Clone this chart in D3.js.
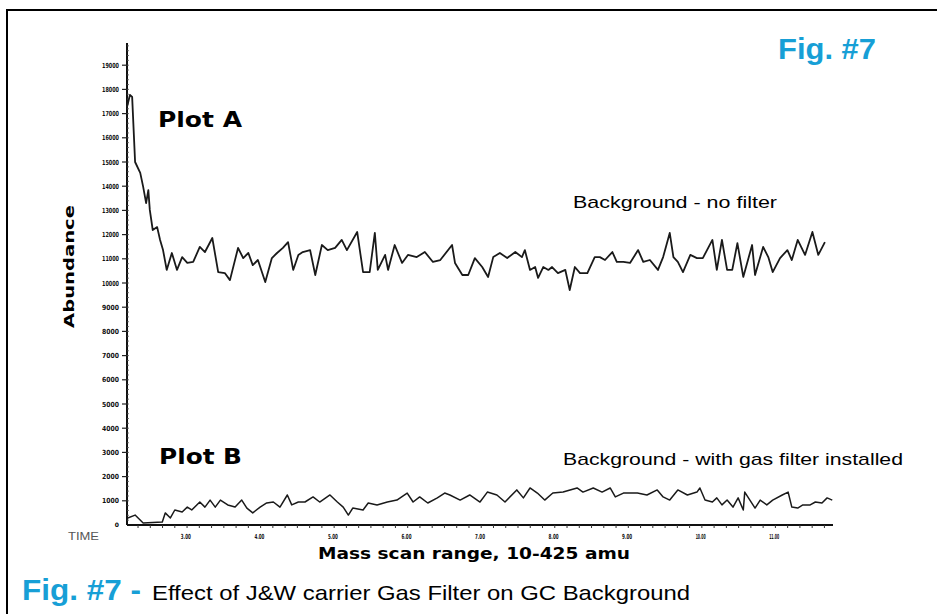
<!DOCTYPE html>
<html>
<head>
<meta charset="utf-8">
<script src="https://cdn.jsdelivr.net/npm/d3@7"></script>
<style>
  body { margin: 0; background: #fff; }
  svg { display: block; }
</style>
</head>
<body>
<div id="chart"></div>
<script>
// --- data (time in min, abundance in counts) ---
const plotATime = [2.20,2.24,2.27,2.31,2.38,2.42,2.46,2.49,2.51,2.55,2.61,2.65,2.69,2.74,2.81,2.88,2.95,3.02,3.10,3.19,3.26,3.36,3.44,3.53,3.60,3.71,3.78,3.85,3.91,3.98,4.08,4.17,4.24,4.32,4.39,4.46,4.53,4.59,4.69,4.76,4.85,4.93,5.03,5.12,5.19,5.33,5.41,5.50,5.57,5.61,5.71,5.75,5.84,5.94,6.02,6.14,6.25,6.36,6.46,6.62,6.66,6.76,6.84,6.93,7.03,7.11,7.18,7.27,7.37,7.48,7.57,7.61,7.68,7.75,7.79,7.86,7.93,7.98,8.06,8.16,8.22,8.29,8.36,8.46,8.56,8.63,8.70,8.80,8.86,8.95,9.04,9.15,9.22,9.31,9.42,9.49,9.58,9.63,9.69,9.76,9.86,9.95,10.03,10.16,10.22,10.29,10.36,10.43,10.50,10.58,10.70,10.74,10.85,10.92,10.98,11.08,11.18,11.24,11.32,11.42,11.52,11.60,11.69];
const plotAValue = [17270,17770,17690,15000,14550,13970,13300,13840,13020,12190,12310,11780,11360,10540,11240,10540,11070,10830,10870,11490,11280,11860,10450,10410,10120,11450,11030,11240,10740,10950,10040,11030,11240,11450,11690,10540,11160,11280,11360,10330,11570,11360,11450,11780,11360,12110,10450,10450,12070,10540,11160,10540,11570,10830,11160,11070,11280,10870,10950,11570,10830,10330,10330,11030,10660,10250,11070,11240,11030,11280,11070,11360,10540,10660,10210,10660,10540,10660,10410,10540,9710,10660,10410,10410,11070,11070,10950,11280,10870,10870,10830,11360,10870,10950,10540,11070,12070,11070,10870,10450,11160,11030,11030,11780,10540,11780,10540,10540,11650,10250,11570,10330,11490,11070,10450,11030,11360,10950,11780,11160,12110,11160,11690];

const plotBTime = [2.21,2.31,2.42,2.68,2.72,2.79,2.85,2.95,3.02,3.08,3.19,3.26,3.33,3.40,3.47,3.57,3.67,3.76,3.83,3.91,4.01,4.10,4.19,4.28,4.38,4.44,4.53,4.62,4.73,4.82,4.96,5.06,5.14,5.21,5.27,5.41,5.48,5.60,5.74,5.87,6.01,6.09,6.18,6.29,6.42,6.52,6.59,6.73,6.86,7.00,7.10,7.23,7.34,7.50,7.59,7.68,7.78,7.88,7.99,8.13,8.32,8.40,8.54,8.66,8.77,8.84,8.95,9.14,9.27,9.41,9.49,9.58,9.69,9.82,9.95,9.99,10.06,10.16,10.22,10.29,10.36,10.44,10.51,10.58,10.60,10.67,10.74,10.81,10.90,10.98,11.11,11.19,11.24,11.32,11.39,11.49,11.56,11.65,11.72,11.79];
const plotBValue = [290,410,80,120,500,290,620,540,740,620,950,740,1030,740,1030,830,740,1030,700,500,740,910,950,740,1240,830,950,950,1160,950,1240,950,740,410,700,620,910,830,950,1030,1320,950,1160,910,1120,1320,1240,1030,1240,950,1360,1240,950,1450,1120,1530,1320,1030,1320,1360,1530,1360,1530,1360,1530,1160,1320,1320,1240,1450,1160,1030,1450,1240,1360,1530,1030,950,1120,830,1030,740,1120,620,1360,1030,700,1030,830,1030,1240,1360,740,700,830,830,950,910,1120,1030];

const yTickValues = d3.range(1000, 20000, 1000);
const xTickValues = [3, 4, 5, 6, 7, 8, 9, 10, 11];
const xTickLabels = ["3.00", "4.00", "5.00", "6.00", "7.00", "8.00", "9.00", "10.00", "11.00"];

const W = 937, H = 614;
const blue = '#179fd6';

const svg = d3.select('#chart').append('svg')
    .attr('width', W)
    .attr('height', H);

// outer frame (only top and left edges show in the crop)
svg.append('rect')
    .attr('x', 7).attr('y', 10)
    .attr('width', 960).attr('height', 700)
    .attr('fill', 'none')
    .attr('stroke', '#000')
    .attr('stroke-width', 2);

const x = d3.scaleLinear().domain([2.2, 11.8]).range([127, 833]);
const y = d3.scaleLinear().domain([0, 20000]).range([525, 41]);

// --- y axis ---
const yAxisG = svg.append('g');
yAxisG.append('line')
    .attr('x1', x(2.2)).attr('x2', x(2.2))
    .attr('y1', y(20000) + 2).attr('y2', y(0))
    .attr('stroke', '#111').attr('stroke-width', 2);

// minor ticks along the axis
yAxisG.selectAll('line.minor')
    .data(d3.range(200, 20000, 200))
    .join('line')
    .attr('class', 'minor')
    .attr('x1', x(2.2)).attr('x2', x(2.2) + 2)
    .attr('y1', d => y(d)).attr('y2', d => y(d))
    .attr('stroke', '#555').attr('stroke-width', 0.8);

yAxisG.selectAll('line.major')
    .data(yTickValues)
    .join('line')
    .attr('class', 'major')
    .attr('x1', x(2.2) - 5).attr('x2', x(2.2))
    .attr('y1', d => y(d)).attr('y2', d => y(d))
    .attr('stroke', '#222').attr('stroke-width', 1.2);

// tick labels are tiny smudges on the scan
yAxisG.selectAll('text.ylab')
    .data(yTickValues)
    .join('text')
    .attr('class', 'ylab')
    .attr('x', 119)
    .attr('y', d => y(d) + 2.5)
    .attr('text-anchor', 'end')
    .attr('font-family', 'DejaVu Sans')
    .attr('font-weight', 'bold')
    .attr('font-size', 7)
    .attr('fill', '#111')
    .attr('textLength', 17)
    .attr('lengthAdjust', 'spacingAndGlyphs')
    .text(d => d);

yAxisG.append('text')
    .attr('x', 119).attr('y', y(0) + 2)
    .attr('text-anchor', 'end')
    .attr('font-family', 'DejaVu Sans')
    .attr('font-weight', 'bold')
    .attr('font-size', 6)
    .text('0');

// --- x axis ---
const xAxisG = svg.append('g');
xAxisG.append('line')
    .attr('x1', x(2.2)).attr('x2', x(11.8))
    .attr('y1', y(0)).attr('y2', y(0))
    .attr('stroke', '#111').attr('stroke-width', 2);

xAxisG.selectAll('line.xminor')
    .data(d3.range(2.35, 11.8, 1 / 6))
    .join('line')
    .attr('class', 'xminor')
    .attr('x1', d => x(d)).attr('x2', d => x(d))
    .attr('y1', y(0)).attr('y2', y(0) + 3)
    .attr('stroke', '#333').attr('stroke-width', 1);

xAxisG.selectAll('text.xlab')
    .data(xTickValues)
    .join('text')
    .attr('class', 'xlab')
    .attr('x', d => x(d))
    .attr('y', 539)
    .attr('text-anchor', 'middle')
    .attr('font-family', 'DejaVu Sans')
    .attr('font-weight', 'bold')
    .attr('font-size', 7)
    .attr('fill', '#111')
    .attr('textLength', 10)
    .attr('lengthAdjust', 'spacingAndGlyphs')
    .text((d, i) => xTickLabels[i]);

svg.append('text')
    .attr('x', 68).attr('y', 540)
    .attr('font-family', 'Liberation Sans')
    .attr('font-size', 11)
    .attr('fill', '#555')
    .attr('textLength', 31)
    .attr('lengthAdjust', 'spacingAndGlyphs')
    .text('TIME');

// axis titles
svg.append('text')
    .attr('x', 318).attr('y', 559)
    .attr('font-family', 'DejaVu Sans')
    .attr('font-weight', 'bold')
    .attr('font-size', 16)
    .attr('textLength', 312)
    .attr('lengthAdjust', 'spacingAndGlyphs')
    .text('Mass scan range, 10-425 amu');

svg.append('text')
    .attr('transform', 'translate(74,328) rotate(-90)')
    .attr('font-family', 'DejaVu Sans')
    .attr('font-weight', 'bold')
    .attr('font-size', 14)
    .attr('textLength', 123)
    .attr('lengthAdjust', 'spacingAndGlyphs')
    .text('Abundance');

// --- traces ---
const line = d3.line()
    .x(d => x(d[0]))
    .y(d => y(d[1]));

svg.append('path')
    .datum(plotATime.map((t, i) => [t, plotAValue[i]]))
    .attr('d', line)
    .attr('fill', 'none')
    .attr('stroke', '#1a1a1a')
    .attr('stroke-width', 1.8)
    .attr('stroke-linejoin', 'round');

svg.append('path')
    .datum(plotBTime.map((t, i) => [t, plotBValue[i]]))
    .attr('d', line)
    .attr('fill', 'none')
    .attr('stroke', '#1a1a1a')
    .attr('stroke-width', 1.5)
    .attr('stroke-linejoin', 'round');

// --- plot labels ---
svg.append('text')
    .attr('x', 158).attr('y', 127)
    .attr('font-family', 'DejaVu Sans')
    .attr('font-weight', 'bold')
    .attr('font-size', 21)
    .attr('textLength', 84)
    .attr('lengthAdjust', 'spacingAndGlyphs')
    .text('Plot A');

svg.append('text')
    .attr('x', 159).attr('y', 464)
    .attr('font-family', 'DejaVu Sans')
    .attr('font-weight', 'bold')
    .attr('font-size', 21)
    .attr('textLength', 83)
    .attr('lengthAdjust', 'spacingAndGlyphs')
    .text('Plot B');

svg.append('text')
    .attr('x', 573).attr('y', 208)
    .attr('font-family', 'Liberation Sans')
    .attr('font-size', 17)
    .attr('textLength', 204)
    .attr('lengthAdjust', 'spacingAndGlyphs')
    .text('Background - no filter');

svg.append('text')
    .attr('x', 563).attr('y', 465)
    .attr('font-family', 'Liberation Sans')
    .attr('font-size', 17)
    .attr('textLength', 340)
    .attr('lengthAdjust', 'spacingAndGlyphs')
    .text('Background - with gas filter installed');

// --- figure labels ---
svg.append('text')
    .attr('x', 778).attr('y', 59)
    .attr('font-family', 'Liberation Sans')
    .attr('font-weight', 'bold')
    .attr('font-size', 30)
    .attr('fill', blue)
    .attr('textLength', 98)
    .attr('lengthAdjust', 'spacingAndGlyphs')
    .text('Fig. #7');

svg.append('text')
    .attr('x', 22).attr('y', 600)
    .attr('font-family', 'Liberation Sans')
    .attr('font-weight', 'bold')
    .attr('font-size', 29)
    .attr('fill', blue)
    .attr('textLength', 119)
    .attr('lengthAdjust', 'spacingAndGlyphs')
    .text('Fig. #7 -');

svg.append('text')
    .attr('x', 152).attr('y', 600)
    .attr('font-family', 'Liberation Sans')
    .attr('font-size', 21)
    .attr('fill', '#000')
    .attr('textLength', 538)
    .attr('lengthAdjust', 'spacingAndGlyphs')
    .text('Effect of J&W carrier Gas Filter on GC Background');
</script>
</body>
</html>
